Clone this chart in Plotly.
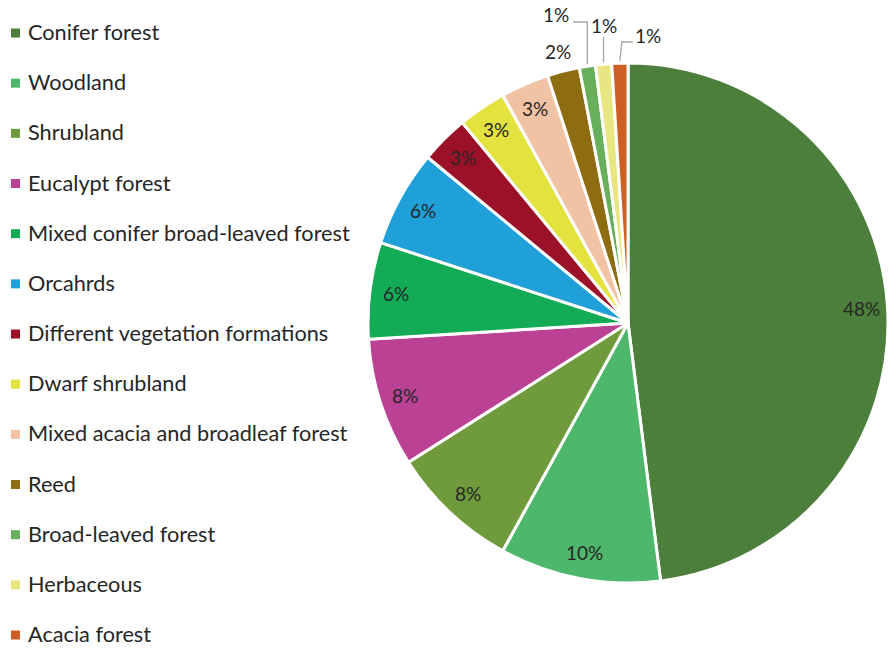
import math
import plotly.graph_objects as go

# Land-cover categories and their share of the burnt area (%)
categories = [
    "Conifer forest",
    "Woodland",
    "Shrubland",
    "Eucalypt forest",
    "Mixed conifer broad-leaved forest",
    "Orcahrds",
    "Different vegetation formations",
    "Dwarf shrubland",
    "Mixed acacia and broadleaf forest",
    "Reed",
    "Broad-leaved forest",
    "Herbaceous",
    "Acacia forest",
]
shares = [48, 10, 8, 8, 6, 6, 3, 3, 3, 2, 1, 1, 1]
colors = [
    "#4C7F3B", "#4DB86B", "#6F9B3C", "#BA4193", "#13AB55", "#20A0D8",
    "#9A1128", "#E3E33F", "#F1C2A4", "#8E6C10", "#67AF5A", "#E8E680",
    "#CD5F25",
]

W, H = 889, 649
CX, CY, R = 628, 323, 260          # pie centre and radius in pixels
FONT = "Lato, 'Open Sans', sans-serif"
TEXT_COLOR = "#262626"


def paper(x, y):
    return x / W, 1 - y / H


fig = go.Figure(
    go.Pie(
        labels=categories,
        values=shares,
        sort=False,
        direction="clockwise",
        rotation=0,
        marker=dict(colors=colors, line=dict(color="white", width=3)),
        textinfo="none",
        hoverinfo="label+percent",
        showlegend=False,
        domain=dict(x=[(CX - R) / W, (CX + R) / W],
                    y=[1 - (CY + R) / H, 1 - (CY - R) / H]),
    )
)

annotations = []
shapes = []

# leader-line layout for the thinnest slices: (elbow, line end, label) offsets
# relative to the slice's outer edge point, in pixels
leaders = {
    "Broad-leaved forest": ((0, 22), (-14, 22), (-31, 15)),
    "Herbaceous": ((0, 37), (0, 37), (0, 25)),
    "Acacia forest": ((2, 42), (13, 42), (28, 35)),
}

total = sum(shares)
cum = 0.0
for name, v in zip(categories, shares):
    frac = v / total
    mid = (cum + frac / 2) * 2 * math.pi
    cum += frac
    sx, sy = math.sin(mid), -math.cos(mid)
    text = f"{round(frac * 100)}%"
    if name in leaders:
        (ex, ey), (lx, ly), (tx, ty) = leaders[name]
        x0, y0 = CX + R * sx, CY + R * sy - 2
        xe, ye = x0 + ex, ey
        xl, yl = x0 + lx, ly
        p0, pe, pl = paper(x0, y0), paper(xe, ye), paper(xl, yl)
        shapes.append(dict(
            type="path", xref="paper", yref="paper",
            path=f"M{p0[0]},{p0[1]} L{pe[0]},{pe[1]} L{pl[0]},{pl[1]}",
            line=dict(color="#A6A6A6", width=1.3),
        ))
        px, py = x0 + tx, ty
    elif frac >= 0.03:
        px, py = CX + 0.9 * R * sx, CY + 0.9 * R * sy
    else:
        px, py = CX + 1.08 * R * sx, CY + 1.08 * R * sy
    ax, ay = paper(px, py)
    annotations.append(dict(
        x=ax, y=ay, xref="paper", yref="paper", text=text, showarrow=False,
        xanchor="center", yanchor="middle",
        font=dict(family=FONT, size=19, color=TEXT_COLOR),
    ))

# legend: colour swatch and label for each category
LEG_X, LEG_Y0, LEG_STEP, SW = 15.5, 33, 50.17, 9
for i, (name, col) in enumerate(zip(categories, colors)):
    yc = LEG_Y0 + i * LEG_STEP
    xa, ya = paper(LEG_X - SW / 2, yc - SW / 2)
    xb, yb = paper(LEG_X + SW / 2, yc + SW / 2)
    shapes.append(dict(type="rect", xref="paper", yref="paper",
                       x0=xa, x1=xb, y0=yb, y1=ya,
                       fillcolor=col, line=dict(width=0)))
    tx, ty = paper(26, yc - 1)
    annotations.append(dict(
        x=tx, y=ty, xref="paper", yref="paper", text=name, showarrow=False,
        xanchor="left", yanchor="middle",
        font=dict(family=FONT, size=21.7, color=TEXT_COLOR),
    ))

fig.update_layout(
    width=W, height=H,
    margin=dict(l=0, r=0, t=0, b=0),
    paper_bgcolor="white", plot_bgcolor="white",
    annotations=annotations, shapes=shapes,
)

fig.write_html("out.html")
